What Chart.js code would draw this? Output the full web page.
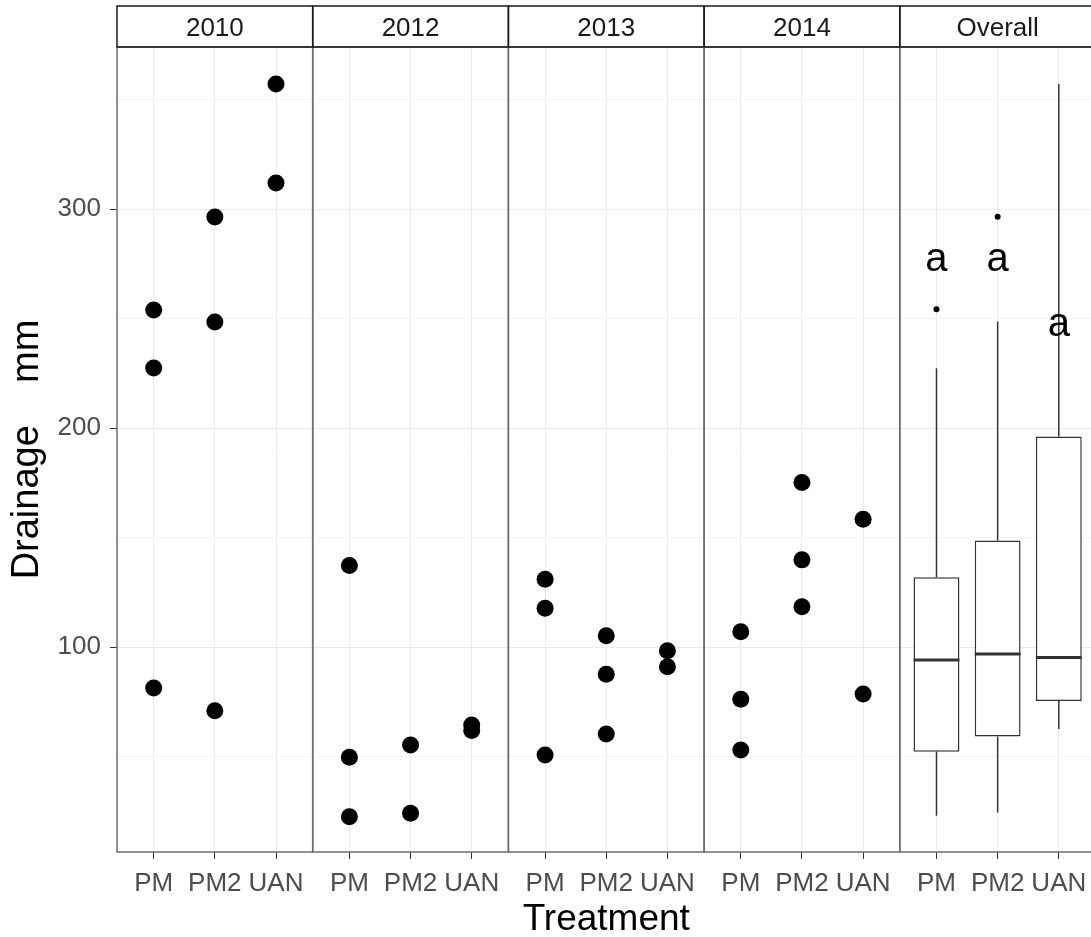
<!DOCTYPE html>
<html>
<head>
<meta charset="utf-8">
<script src="https://cdn.jsdelivr.net/npm/chart.js@4.4.1/dist/chart.umd.min.js"></script>
<style>
  html, body { margin: 0; padding: 0; background: #fff; overflow: hidden; }
  #wrap { width: 1104px; height: 937px; }
</style>
</head>
<body>
<div id="wrap"><canvas id="chart" width="1104" height="937"></canvas></div>
<script>
const stripLabels = ['2010', '2012', '2013', '2014', 'Overall'];
const treatments = ['PM', 'PM2', 'UAN'];

// drainage (mm), one list per treatment: PM, PM2, UAN
const drain2010 = [[254.0, 227.5, 81.4], [296.5, 248.5, 71.0], [357.2, 312.0]];
const drain2012 = [[137.3, 49.8, 22.6], [55.4, 24.2], [64.5, 62.0]];
const drain2013 = [[131.0, 117.8, 50.8], [105.3, 87.7, 60.4], [98.4, 91.1]];
const drain2014 = [[107.1, 76.3, 53.1], [175.2, 139.9, 118.5], [158.4, 78.7]];
const yearData = [drain2010, drain2012, drain2013, drain2014];

// overall boxplot, per treatment
const boxLow = [23.0, 24.5, 62.7];
const boxQ1 = [52.3, 59.2, 75.5];
const boxMedian = [94.2, 96.9, 95.3];
const boxQ3 = [132.0, 148.7, 196.2];
const boxHigh = [227.4, 248.7, 357.2];
const boxOutliers = [[254.3], [296.6], []];
const groupLetters = ['a', 'a', 'a'];
const letterY = [277.8, 277.8, 248.0];

const yTicks = [50, 100, 150, 200, 250, 300, 350];
const yMajor = [100, 200, 300];

const family = "'Liberation Sans', Arial, sans-serif";
const panelSpan = 3.2;   // each facet: 3 discrete slots + 0.6 expansion each side
const slotPad = 0.6;
const halfBox = 0.375;
const xPos = (panel, i) => panel * panelSpan + slotPad + i;
const overall = stripLabels.length - 1;

const xTickValues = [];
stripLabels.forEach((_, k) => treatments.forEach((_, i) => xTickValues.push(xPos(k, i))));

const pointData = [];
yearData.forEach((year, k) => year.forEach((vals, i) => vals.forEach(v => pointData.push({ x: xPos(k, i), y: v }))));

const boxData = treatments.map((_, i) => ({ x: xPos(overall, i), y: [boxQ1[i], boxQ3[i]] }));

const whiskerData = [];
const medianData = [];
const outlierData = [];
treatments.forEach((_, i) => {
  const c = xPos(overall, i);
  whiskerData.push({ x: c, y: boxLow[i] }, { x: c, y: boxQ1[i] }, { x: c, y: null },
                   { x: c, y: boxQ3[i] }, { x: c, y: boxHigh[i] }, { x: c, y: null });
  medianData.push({ x: c - halfBox, y: boxMedian[i] }, { x: c + halfBox, y: boxMedian[i] }, { x: c, y: null });
  boxOutliers[i].forEach(v => outlierData.push({ x: c, y: v }));
});

const noEdgePadding = s => { s.paddingLeft = 0; s.paddingRight = 0; };

const facetFrame = {
  id: 'facetFrame',
  afterDatasetsDraw(chart) {
    const { ctx, chartArea, scales: { x, y, strip } } = chart;
    ctx.save();
    // group letters
    ctx.fillStyle = '#000';
    ctx.font = '40px ' + family;
    ctx.textAlign = 'center';
    ctx.textBaseline = 'alphabetic';
    groupLetters.forEach((t, i) => {
      ctx.fillText(t, x.getPixelForValue(xPos(overall, i)), y.getPixelForValue(letterY[i]) + 13);
    });
    // panel borders and strip boxes
    stripLabels.forEach((_, k) => {
      const left = x.getPixelForValue(k * panelSpan);
      const right = x.getPixelForValue((k + 1) * panelSpan);
      ctx.lineWidth = 1.5;
      ctx.strokeStyle = '#6E6E6E';
      ctx.strokeRect(left, chartArea.top, right - left, chartArea.bottom - chartArea.top);
      ctx.strokeStyle = '#1A1A1A';
      ctx.strokeRect(left, strip.top, right - left, strip.bottom - strip.top);
    });
    ctx.restore();
  }
};

new Chart(document.getElementById('chart'), {
  type: 'scatter',
  data: {
    datasets: [
      { data: medianData, showLine: true, borderColor: '#333', borderWidth: 3, pointRadius: 0 },
      { data: outlierData, pointRadius: 3, backgroundColor: '#000', borderWidth: 0 },
      { data: pointData, pointRadius: 8.5, backgroundColor: '#000', borderWidth: 0 },
      { data: whiskerData, showLine: true, borderColor: '#333', borderWidth: 1.5, pointRadius: 0 },
      { type: 'bar', data: boxData, backgroundColor: '#fff', borderColor: '#333', borderWidth: 1.5,
        borderSkipped: false, categoryPercentage: 1, barPercentage: 0.75 }
    ]
  },
  options: {
    responsive: false,
    animation: false,
    layout: { padding: { top: 6, right: 0, left: 0, bottom: 0 } },
    plugins: { legend: { display: false }, tooltip: { enabled: false } },
    scales: {
      x: {
        type: 'linear', position: 'bottom', min: 0, max: panelSpan * stripLabels.length, offset: false,
        afterBuildTicks: s => { s.ticks = xTickValues.map(v => ({ value: v })); },
        afterFit: s => { s.height = 85; noEdgePadding(s); },
        ticks: { autoSkip: false, maxRotation: 0, padding: 9, color: '#4D4D4D',
                 font: { size: 26, family }, callback: (v, i) => treatments[i % treatments.length] },
        grid: { offset: false, color: '#EBEBEB', lineWidth: 1, tickLength: 7, tickColor: '#333' },
        border: { display: false },
        title: { display: true, text: 'Treatment', color: '#000',
                 font: { size: 37, family, lineHeight: 1 }, padding: { top: 0, bottom: -1 } }
      },
      strip: {
        type: 'linear', position: 'top', min: 0, max: panelSpan * stripLabels.length, offset: false,
        afterBuildTicks: s => { s.ticks = stripLabels.map((_, k) => ({ value: k * panelSpan + panelSpan / 2 })); },
        afterFit: s => { s.height = 41; noEdgePadding(s); },
        ticks: { autoSkip: false, maxRotation: 0, padding: -5, color: '#1A1A1A',
                 font: { size: 26, family }, callback: (v, i) => stripLabels[i] },
        grid: { display: false, offset: false },
        border: { display: false }
      },
      y: {
        type: 'linear', min: 6.5, max: 374.1,
        afterBuildTicks: s => { s.ticks = yTicks.map(v => ({ value: v })); },
        afterFit: s => { s.width = 117; },
        ticks: { padding: 9, color: '#4D4D4D', font: { size: 26, family },
                 callback: v => yMajor.includes(v) ? String(v) : '' },
        grid: {
          lineWidth: 1, tickLength: 7,
          color: c => yMajor.includes(c.tick.value) ? '#EBEBEB' : '#F4F4F4',
          tickColor: c => yMajor.includes(c.tick.value) ? '#333' : 'rgba(0,0,0,0)'
        },
        border: { display: false },
        title: { display: true, text: 'Drainage    mm', color: '#000',
                 font: { size: 38, family, lineHeight: 1 }, padding: { top: 9 } }
      }
    }
  },
  plugins: [facetFrame]
});
</script>
</body>
</html>
